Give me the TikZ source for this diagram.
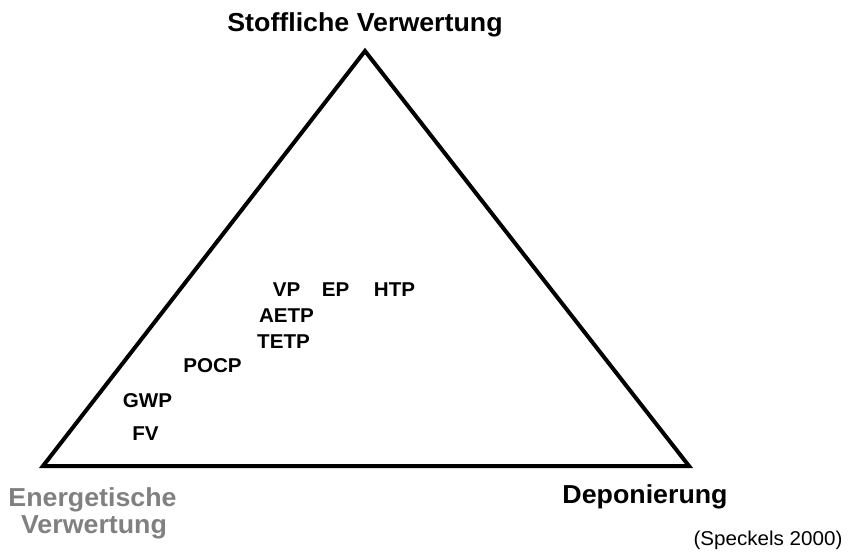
\documentclass[tikz,border=0pt]{standalone}
\usepackage{fontspec}
\setmainfont{Liberation Sans}[FakeStretch=1.03]
\definecolor{labgray}{RGB}{128,128,128}
\begin{document}
\begin{tikzpicture}[x=1pt,y=-1pt,
  big/.style={font=\fontsize{26}{30}\selectfont\bfseries, inner sep=0pt, anchor=base},
  small/.style={font=\fontsize{20}{23}\selectfont\bfseries, inner sep=0pt, anchor=base},
  tri/.style={line width=4pt, line join=miter}]
\useasboundingbox (0,0) rectangle (851,555);
\coordinate (top) at (365,51);
\coordinate (bl) at (43,466);
\coordinate (br) at (689,466);
\draw[tri] (top) -- (br) -- (bl) -- cycle;
\node[big] (sv) at (365,31) {Stoffliche Verwertung};
\node[big, text=labgray] (ev1) at (92.5,506) {Energetische};
\node[big, text=labgray] (ev2) at (94,533) {Verwertung};
\node[big] (dep) at (645,503) {Deponierung};
\node[inner sep=0pt, anchor=base, font=\fontsize{20}{23}\selectfont] (src) at (768,545) {(Speckels 2000)};
\node[small] (vp) at (286.5,296) {VP};
\node[small] (ep) at (335.5,296) {EP};
\node[small] (htp) at (394.5,296) {HTP};
\node[small] (aetp) at (286.5,322) {AETP};
\node[small] (tetp) at (283.5,348) {TETP};
\node[small] (pocp) at (212.5,372) {POCP};
\node[small] (gwp) at (147.5,407) {GWP};
\node[small] (fv) at (145.5,440) {FV};
\end{tikzpicture}
\end{document}
